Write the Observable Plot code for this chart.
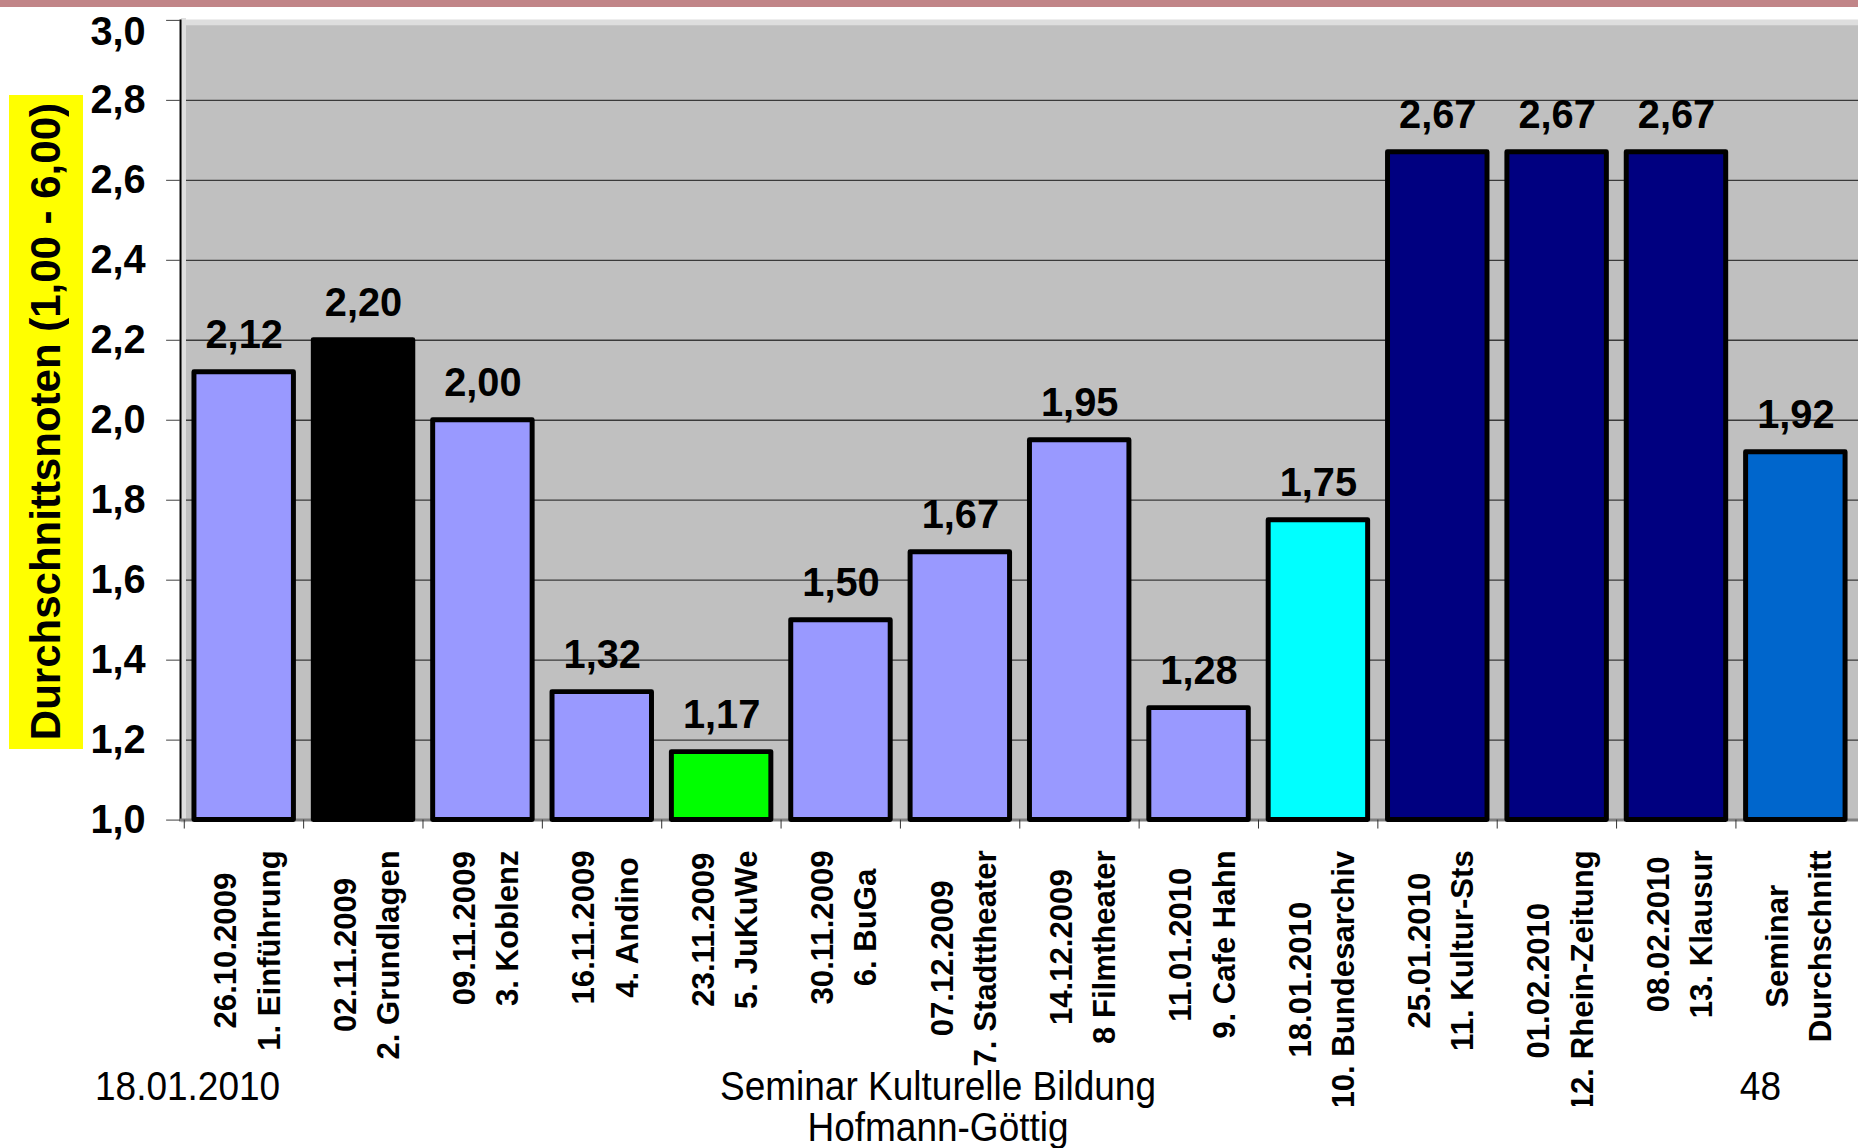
<!DOCTYPE html>
<html>
<head>
<meta charset="utf-8">
<script src="https://cdn.jsdelivr.net/npm/d3@7"></script>
<script src="https://cdn.jsdelivr.net/npm/@observablehq/plot@0.6"></script>
<style>
  html, body { margin: 0; padding: 0; background: #ffffff; overflow: hidden; width: 1858px; height: 1148px; }
  body { position: relative; font-family: "Liberation Sans", Arial, sans-serif; }
  #topband { position: absolute; left: 0; top: 0; width: 1858px; height: 7px; background: #c18588; z-index: 2; }
  #chart { position: absolute; left: 0; top: 0; }
  #ytitle { position: absolute; left: 9px; top: 95px; width: 74px; height: 654px; background: #ffff00;
            display: flex; align-items: center; justify-content: center; z-index: 2; }
  #ytitle span { writing-mode: vertical-rl; transform: rotate(180deg); font-weight: bold; font-size: 42px; color: #000; white-space: nowrap; }
  .foot { position: absolute; font-size: 40px; color: #000; white-space: nowrap; line-height: 38px; z-index: 2; }
</style>
</head>
<body>
<div id="topband"></div>
<div id="chart"></div>
<div id="ytitle"><span>Durchschnittsnoten (1,00 - 6,00)</span></div>
<div class="foot" id="fdate"></div>
<div class="foot" id="ftitle1"></div>
<div class="foot" id="ftitle2"></div>
<div class="foot" id="fpage"></div>
<script>
// ---- data ----
const sessionDates = ["26.10.2009","02.11.2009","09.11.2009","16.11.2009","23.11.2009","30.11.2009","07.12.2009","14.12.2009","11.01.2010","18.01.2010","25.01.2010","01.02.2010","08.02.2010","Seminar"];
const sessionNames = ["1. Einführung","2. Grundlagen","3. Koblenz","4. Andino","5. JuKuWe","6. BuGa","7. Stadttheater","8 Filmtheater","9. Cafe Hahn","10. Bundesarchiv","11. Kultur-Sts","12. Rhein-Zeitung","13. Klausur","Durchschnitt"];
const grades = [2.12, 2.20, 2.00, 1.32, 1.17, 1.50, 1.67, 1.95, 1.28, 1.75, 2.67, 2.67, 2.67, 1.92];
const groups = ["Sitzung","Grundlagen","Sitzung","Sitzung","Bestnote","Sitzung","Sitzung","Sitzung","Sitzung","Aktuell","Ausstehend","Ausstehend","Ausstehend","Durchschnitt"];
const groupNames = ["Sitzung","Grundlagen","Bestnote","Aktuell","Ausstehend","Durchschnitt"];
const groupColors = ["#9999ff","#000000","#00ff00","#00ffff","#000080","#0066cc"];
const yTicks = [1.0, 1.2, 1.4, 1.6, 1.8, 2.0, 2.2, 2.4, 2.6, 2.8, 3.0];
const yDomain = [1.0, 3.0];
const footerDate = "18.01.2010";
const footerTitle1 = "Seminar Kulturelle Bildung";
const footerTitle2 = "Hofmann-Göttig";
const footerPage = "48";

const rows = sessionNames.map((name, i) => ({name, date: sessionDates[i], value: grades[i], group: groups[i]}));
const dateOf = new Map(rows.map(d => [d.name, d.date]));

// ---- layout ----
const W = 1868, H = 1112, ML = 181, MT = 20, MB = 288;
const padIn = 0.17, padOut = 0.087;
const step = (W - ML) / (sessionNames.length - padIn + 2 * padOut);
const LABEL_TOP = 851;
const FONT = '"Liberation Sans", Arial, sans-serif';

const fmt1 = d => d.toFixed(1).replace(".", ",");
const fmt2 = d => d.toFixed(2).replace(".", ",");

const svg = Plot.plot({
  width: W, height: H,
  marginTop: MT, marginBottom: MB, marginLeft: ML, marginRight: 0,
  style: {fontFamily: FONT, background: "transparent", color: "#000", overflow: "hidden"},
  x: {domain: sessionNames, paddingInner: padIn, paddingOuter: padOut, axis: null},
  y: {domain: yDomain, axis: null},
  color: {domain: groupNames, range: groupColors},
  marks: [
    Plot.frame({fill: "#c0c0c0", stroke: null}),
    Plot.gridY(yTicks.filter(t => t > yDomain[0] && t < yDomain[1]), {stroke: "#3a3a3a", strokeOpacity: 1, strokeWidth: 1.3}),
    Plot.ruleY([yDomain[1]], {stroke: "#dedede", strokeWidth: 6, dy: 2}),
    Plot.frame({anchor: "left", stroke: "#dedede", strokeWidth: 5, dx: 3}),
    Plot.frame({anchor: "left", stroke: "#000", strokeWidth: 2}),
    Plot.frame({anchor: "bottom", stroke: "#808080", strokeWidth: 3}),
    Plot.axisY(yTicks, {tickSize: 14, tickPadding: 21, tickFormat: fmt1, fontSize: 40, fontWeight: "bold", stroke: "#404040", label: null}),
    Plot.axisX({tickSize: 9, tickFormat: () => "", dx: -step / 2, stroke: "#303030", label: null}),
    Plot.axisX({tickSize: 0, tickPadding: 0, tickRotate: -90, textAnchor: "middle", lineAnchor: "middle", lineHeight: 1.39,
      tickFormat: n => dateOf.get(n) + "\n" + n, fontSize: 31.3, fontWeight: "bold", label: null}),
    Plot.barY(rows, {x: "name", y1: () => yDomain[0], y2: "value", fill: "group", stroke: "#000", strokeWidth: 5, strokeLinejoin: "round"}),
    Plot.text(rows, {x: "name", y: "value", text: d => fmt2(d.value), dy: -24, lineAnchor: "bottom", fontSize: 40, fontWeight: "bold", fill: "#000"})
  ]
});
document.getElementById("chart").append(svg);

const svgTop = svg.getBoundingClientRect().top;
// place rotated two-line tick labels: lines centred on each other, longest line starting just below the axis
svg.querySelectorAll('g[aria-label="x-axis tick label"] text').forEach(t => {
  if (!t.textContent.trim()) return;
  const r = t.getBoundingClientRect();
  const delta = LABEL_TOP - (r.top - svgTop);
  t.setAttribute("transform", `translate(0,${delta.toFixed(2)}) ` + (t.getAttribute("transform") || ""));
});
// keep the top y tick label clear of the slide's top band
svg.querySelectorAll('g[aria-label="y-axis tick label"] text').forEach(t => {
  const r = t.getBoundingClientRect();
  const top = r.top - svgTop;
  if (top < 9) t.setAttribute("transform", `translate(0,${(9 - top).toFixed(2)}) ` + (t.getAttribute("transform") || ""));
});

// footer
function place(id, text, x, baseline, anchor) {
  const el = document.getElementById(id);
  el.textContent = text;
  el.style.left = x + "px";
  el.style.top = (baseline - 33) + "px";
  const tx = anchor === "middle" ? "-50%" : anchor === "end" ? "-100%" : "0";
  el.style.transformOrigin = anchor === "middle" ? "50% 50%" : anchor === "end" ? "100% 50%" : "0 50%";
  el.style.transform = `translateX(${tx}) scaleX(0.925)`;
}
place("fdate", footerDate, 95, 1100, "start");
place("ftitle1", footerTitle1, 938, 1100, "middle");
place("ftitle2", footerTitle2, 938, 1141, "middle");
place("fpage", footerPage, 1781, 1100, "end");
</script>
</body>
</html>
